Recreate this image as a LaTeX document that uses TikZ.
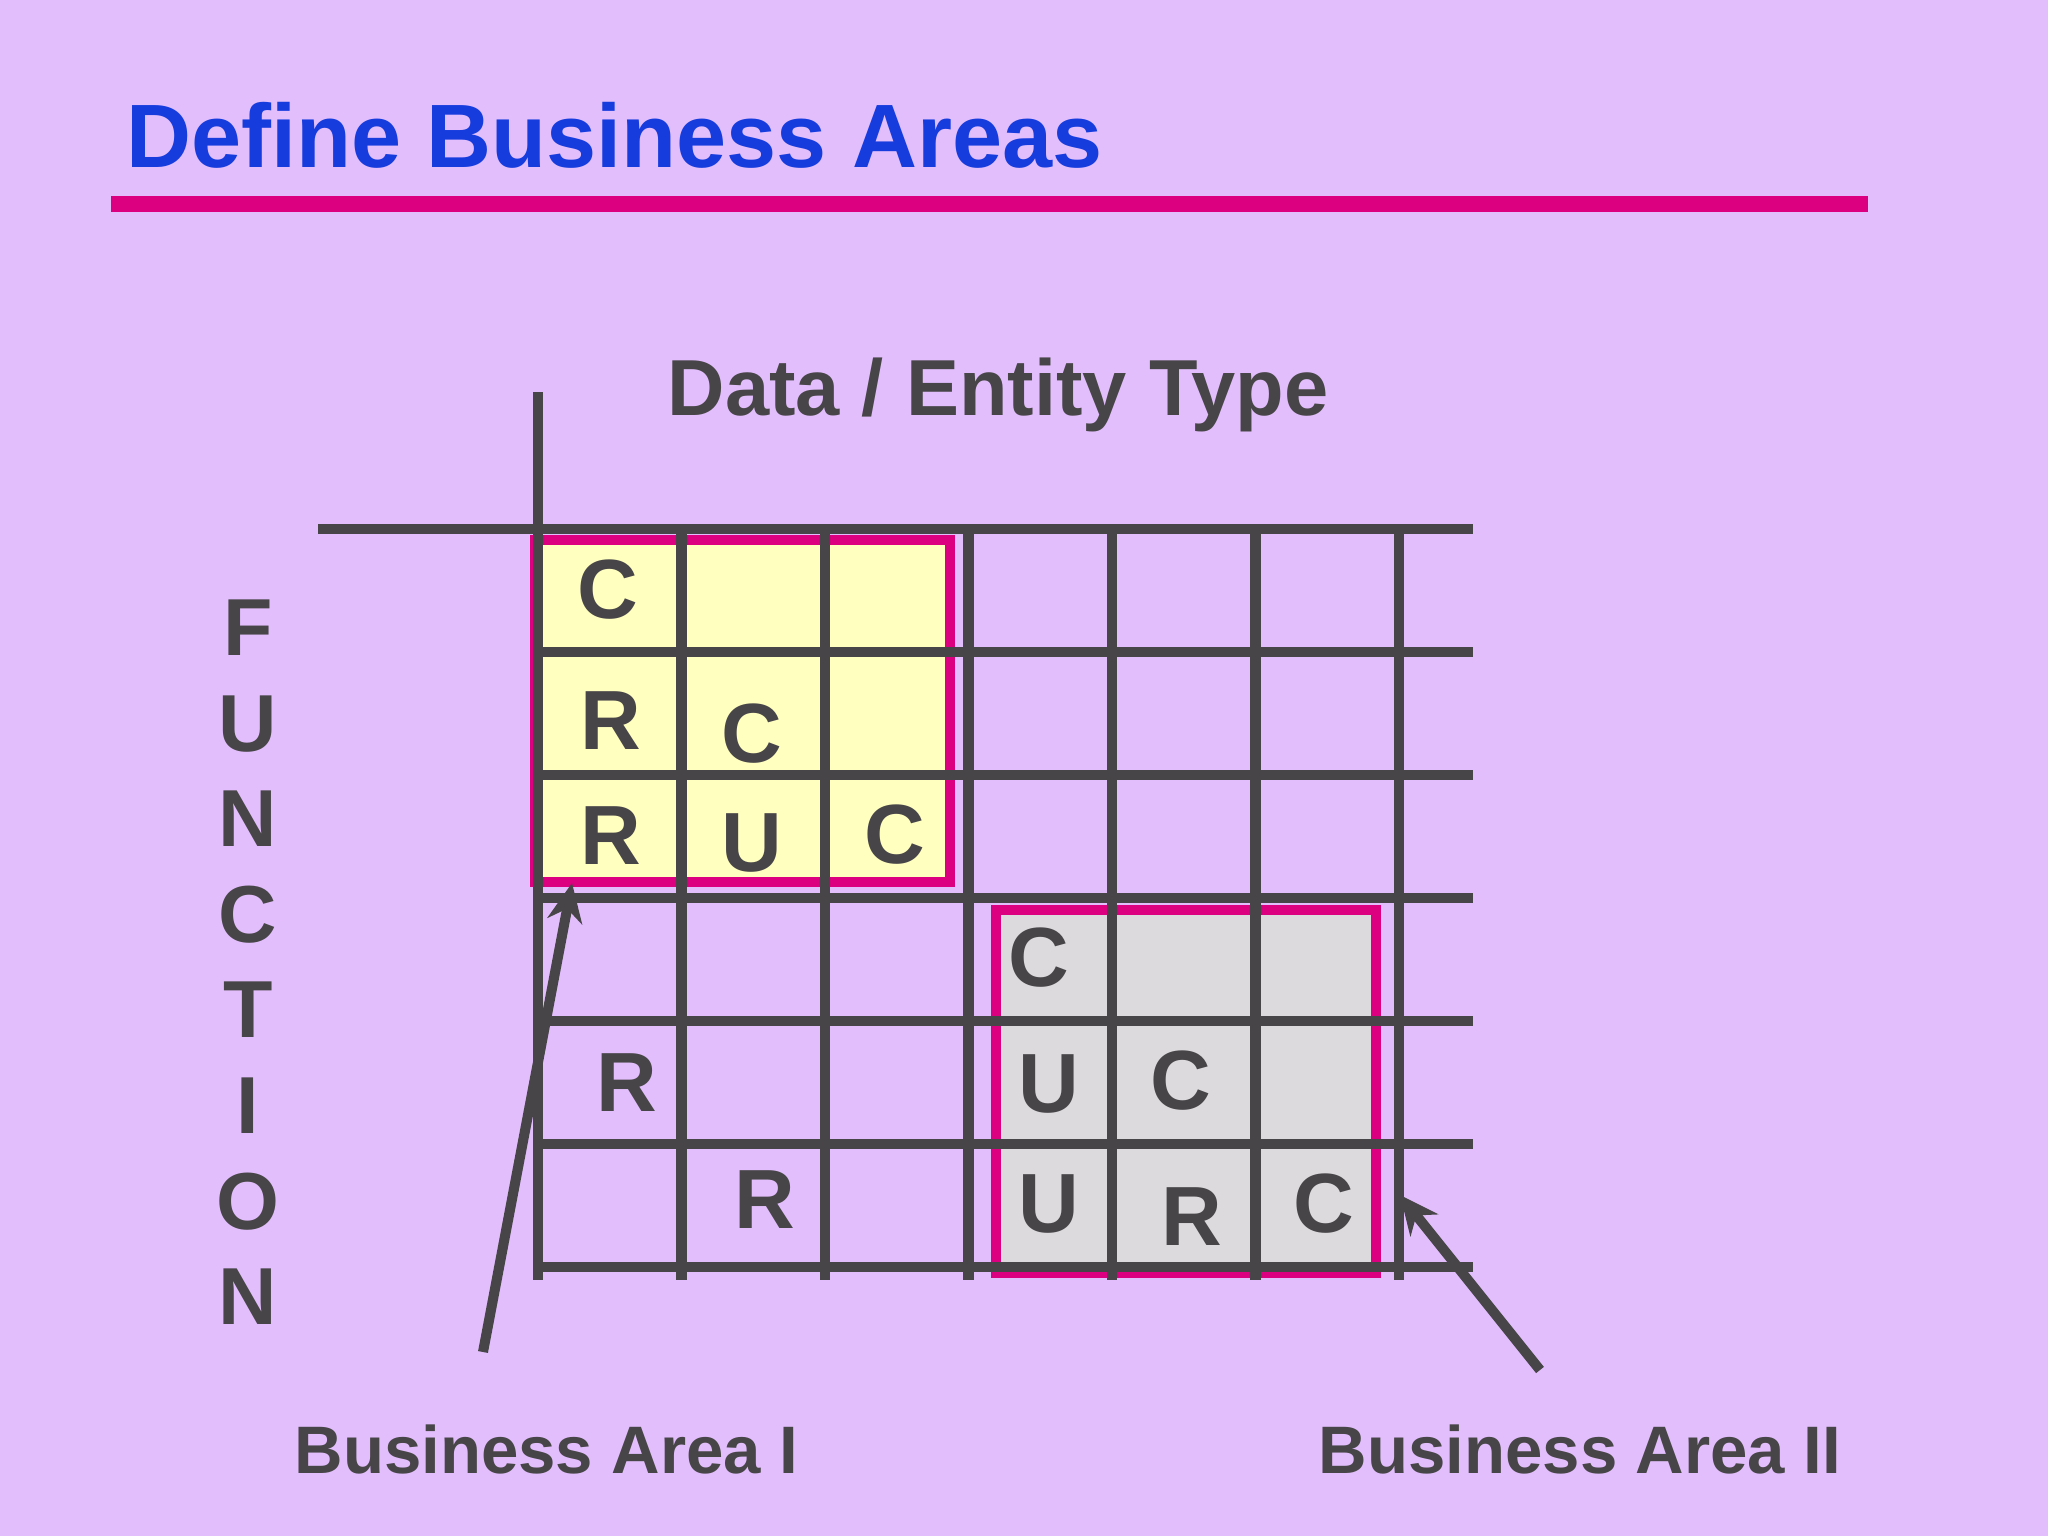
\documentclass[tikz,border=0pt]{standalone}
\usepackage{fontspec}
\setmainfont{Liberation Sans}
\usetikzlibrary{positioning,arrows.meta}
\definecolor{lilac}{RGB}{226,191,252}
\definecolor{titleblue}{RGB}{22,60,222}
\definecolor{accent}{RGB}{220,0,128}
\definecolor{ink}{RGB}{72,69,72}
\definecolor{areaI}{RGB}{255,255,192}
\definecolor{areaII}{RGB}{220,218,220}

\begin{document}
\begin{tikzpicture}[
  x = 0.01cm,
  y = -0.01cm,
  letter/.style = {
    font = \fontsize{23.9}{24}\selectfont\bfseries,
    text = ink,
    inner sep = 0pt,
    anchor = base,
  },
  vletter/.style = {
    letter,
    font = \fontsize{23}{24}\selectfont\bfseries,
  },
  caption/.style = {
    font = \fontsize{19.1}{20}\selectfont\bfseries,
    text = ink,
    inner sep = 0pt,
    anchor = base west,
  },
  gridline/.style = {
    draw = ink,
    line width = 3.1pt,
  },
  area/.style = {
    draw = accent,
    line width = 2.9pt,
  },
  pointer/.style = {
    draw = ink,
    line width = 2.85pt,
    ->,
  },
  >={Stealth[length=11pt,width=10pt]},
]

  \useasboundingbox[fill=lilac] (0,0) rectangle (2048,1536);

  % title
  \node[font=\fontsize{25.6}{26}\selectfont\bfseries, text=titleblue,
        inner sep=0pt, anchor=base west] (title) at (126,167) {Define Business Areas};
  \draw[accent, line width=4.55pt] (111,204) -- (1868,204);

  % business areas
  \path[area, fill=areaI] (535,540) rectangle (950,882);
  \path[area, fill=areaII] (996,910) rectangle (1376,1273);

  % matrix
  \path[gridline] (318,529) -- (1473,529);
  \path[gridline] (533,652) -- (1473,652);
  \path[gridline] (533,775) -- (1473,775);
  \path[gridline] (533,898) -- (1473,898);
  \path[gridline] (533,1021) -- (1473,1021);
  \path[gridline] (533,1144) -- (1473,1144);
  \path[gridline] (533,1267) -- (1473,1267);

  \path[gridline] (538,392) -- (538,1280);
  \path[gridline] (681.5,524) -- (681.5,1280);
  \path[gridline] (825,524) -- (825,1280);
  \path[gridline] (968.5,524) -- (968.5,1280);
  \path[gridline] (1112,524) -- (1112,1280);
  \path[gridline] (1255.5,524) -- (1255.5,1280);
  \path[gridline] (1399,524) -- (1399,1280);

  \node[letter] (c00) at (608,618) {C};
  \node[letter] (r10) at (611,749) {R};
  \node[letter] (c11) at (752,762) {C};
  \node[letter] (r20) at (611,864) {R};
  \node[letter] (u21) at (752,871) {U};
  \node[letter] (c22) at (895,863) {C};
  \node[letter] (c33) at (1039,986) {C};
  \node[letter] (r40) at (627,1111) {R};
  \node[letter] (u43) at (1049,1112) {U};
  \node[letter] (c44) at (1181,1109) {C};
  \node[letter] (r51) at (765,1228) {R};
  \node[letter] (u53) at (1049,1232) {U};
  \node[letter] (r54) at (1192,1245) {R};
  \node[letter] (c55) at (1324,1232) {C};

  % axis labels
  \node[letter, font=\fontsize{22.6}{23}\selectfont\bfseries, anchor=base west]
    (datatype) at (667,415) {Data / Entity Type};

  \node[vletter] (fn0) at (248,655) {F};
  \node[vletter] (fn1) at (248,751) {U};
  \node[vletter] (fn2) at (248,846) {N};
  \node[vletter] (fn3) at (248,942) {C};
  \node[vletter] (fn4) at (248,1037) {T};
  \node[vletter] (fn5) at (248,1133) {I};
  \node[vletter] (fn6) at (248,1229) {O};
  \node[vletter] (fn7) at (248,1324) {N};

  % pointers
  \node[caption] (bai) at (294,1473) {Business Area I};
  \node[caption] (baii) at (1318,1473) {Business Area II};

  \coordinate (ptaili) at (483,1352);
  \coordinate (ptipi) at (572,883);
  \coordinate (ptailii) at (1540,1370);
  \coordinate (ptipii) at (1400,1195);

  \path[pointer] (ptaili) -- (ptipi);
  \path[pointer] (ptailii) -- (ptipii);

\end{tikzpicture}
\end{document}
